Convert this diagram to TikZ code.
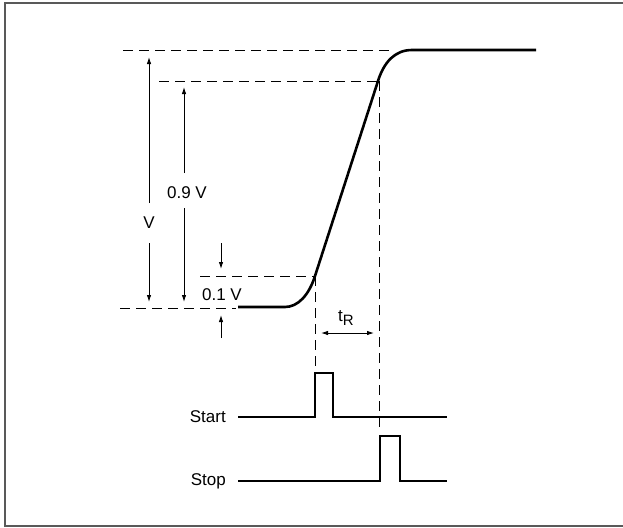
\documentclass[tikz,border=0pt]{standalone}
\usepackage{fontspec}
\setmainfont{Liberation Sans}
\usetikzlibrary{arrows.meta}
\begin{document}
\begin{tikzpicture}[x=1pt,y=-1pt,
  lbl/.style={font=\fontsize{17}{19}\selectfont, inner sep=0pt},
  guide/.style={line width=0.9pt, dash pattern=on 10pt off 6pt},
  dimarrow/.style={line width=0.9pt, -{Latex[length=7pt,width=4.5pt]}},
  dimboth/.style={line width=0.9pt, {Latex[length=7pt,width=4.5pt]}-{Latex[length=7pt,width=4.5pt]}},
  signal/.style={line width=2.6pt, line join=round},
  pulse/.style={line width=2pt, line join=miter}]
\useasboundingbox (0,0) rectangle (623,527);
\clip (0,0) rectangle (623,527);
\draw[black!65, line width=1.6pt] (5,3) rectangle (650,526);

% key points of the waveform
\coordinate (w0) at (238,307);
\coordinate (w10) at (315,276);
\coordinate (w90) at (378,81);
\coordinate (wtop) at (412,50);
\coordinate (wend) at (536,50);

% guide lines
\coordinate (g100) at (123,50);
\coordinate (g100r) at (395,50);
\coordinate (g90) at (159,81);
\coordinate (g10) at (200,276);
\coordinate (g0) at (120,308);
\coordinate (g0r) at (236,308);
\coordinate (v10b) at (315,373);
\coordinate (v90b) at (379,430);
\coordinate (v90t) at (379,81);

\draw[guide] (g100) -- (g100r);
\draw[guide] (g90) -- (w90);
\draw[guide] (g10) -- (w10);
\draw[guide] (g0) -- (g0r);
\draw[guide] (w10) -- (v10b);
\draw[guide] (v90t) -- (v90b);

% waveform
\draw[signal] (w0) -- (285,307) .. controls (298,307) and (309,295) .. (w10)
  -- (w90) .. controls (384,62) and (395,50) .. (wtop) -- (wend);

% V dimension
\node[lbl] (V) at (149,223) {V};
\coordinate (Vtop) at (149,57);
\coordinate (Vbot) at (149,302);
\draw[dimarrow] (149,203) -- (Vtop);
\draw[dimarrow] (149,243) -- (Vbot);

% 0.9 V dimension
\node[lbl] (V90) at (187,193) {0.9 V};
\coordinate (V90top) at (184,87);
\coordinate (V90bot) at (184,302);
\draw[dimarrow] (184,173) -- (V90top);
\draw[dimarrow] (184,208) -- (V90bot);

% 0.1 V dimension
\node[lbl] (V10) at (222,295) {0.1 V};
\coordinate (V10a) at (221,243);
\coordinate (V10atip) at (221,269);
\coordinate (V10b) at (221,338);
\coordinate (V10btip) at (221,315);
\draw[dimarrow] (V10a) -- (V10atip);
\draw[dimarrow] (V10b) -- (V10btip);

% rise time
\node[lbl] (tR) at (346,318) {t\raisebox{-0.28em}{\fontsize{15}{17}\selectfont R}};
\coordinate (tRl) at (321,333);
\coordinate (tRr) at (374,333);
\draw[dimboth] (tRl) -- (tRr);

% Start pulse
\node[lbl, anchor=east] (start) at (226,417) {Start};
\coordinate (s0) at (238,417);
\coordinate (s1) at (447,417);
\draw[pulse] (s0) -- (315,417) -- (315,373) -- (333,373) -- (333,417) -- (s1);

% Stop pulse
\node[lbl, anchor=east] (stop) at (226,481) {Stop};
\coordinate (p0) at (238,481);
\coordinate (p1) at (447,481);
\draw[pulse] (p0) -- (380,481) -- (380,436) -- (400,436) -- (400,481) -- (p1);
\end{tikzpicture}
\end{document}
